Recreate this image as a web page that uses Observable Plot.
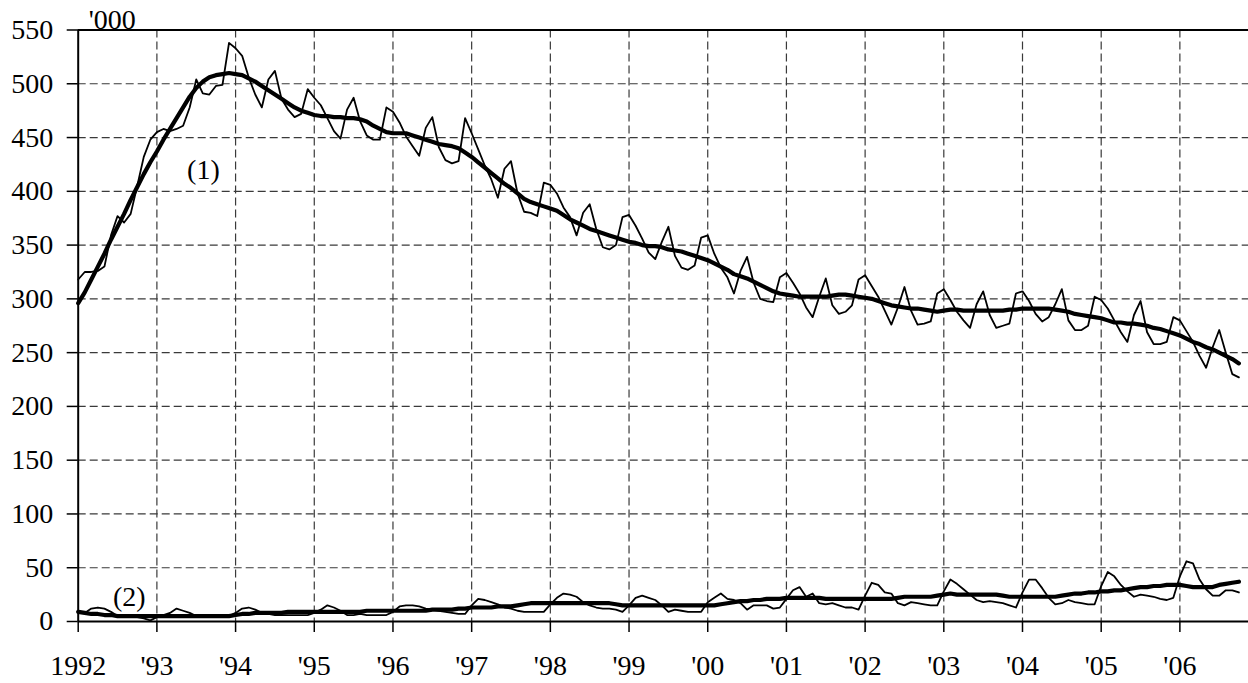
<!DOCTYPE html>
<html>
<head>
<meta charset="utf-8">
<script src="https://cdn.jsdelivr.net/npm/d3@7"></script>
<script src="https://cdn.jsdelivr.net/npm/@observablehq/plot@0.6"></script>
<style>
  html, body { margin: 0; padding: 0; background: #fff; }
  #chart { width: 1248px; height: 683px; }
</style>
</head>
<body>
<div id="chart"></div>
<script>
// Monthly values, Jan 1992 .. Oct 2006 (thousands)
const series1Monthly = [
  318, 325, 325, 326, 330, 359, 377, 371, 379, 405,
  432, 448, 455, 458, 456, 458, 461, 478, 504, 491,
  490, 498, 499, 538, 533, 526, 506, 490, 478, 504,
  512, 486, 476, 469, 472, 495, 487, 480, 468, 456,
  449, 476, 487, 465, 452, 448, 448, 478, 474, 464,
  451, 442, 433, 459, 469, 441, 429, 426, 428, 468,
  454, 439, 424, 411, 394, 421, 428, 398, 381, 380,
  377, 408, 406, 398, 385, 376, 359, 380, 388, 365,
  348, 346, 350, 376, 378, 368, 356, 343, 337, 353,
  367, 340, 329, 327, 331, 357, 359, 342, 329, 320,
  305, 326, 339, 315, 300, 298, 297, 320, 324, 315,
  305, 292, 283, 302, 319, 294, 286, 288, 294, 318,
  322, 312, 302, 289, 276, 292, 311, 289, 276, 277,
  279, 305, 309, 299, 288, 280, 273, 295, 307, 285,
  273, 275, 277, 305, 307, 298, 286, 279, 283, 295,
  309, 280, 271, 271, 275, 302, 299, 291, 280, 269,
  260, 285, 298, 269, 258, 258, 260, 283, 280, 270,
  260, 247, 236, 255, 271, 250, 230, 227
];
const series1Trend = [
  296, 306, 318, 330, 342, 355, 367, 379, 392, 404,
  416, 427, 437, 448, 458, 468, 478, 488, 496, 502,
  506, 508, 509, 510, 509, 508, 505, 502, 498, 494,
  490, 486, 482, 478, 475, 473, 471, 470, 470, 469,
  469, 468, 468, 467, 465, 461, 458, 455, 454, 454,
  454, 452, 450, 448, 446, 444, 443, 442, 440, 436,
  432, 427, 422, 417, 412, 407, 403, 398, 393, 390,
  388, 386, 384, 382, 378, 374, 371, 368, 365, 363,
  361, 359, 357, 355, 353, 352, 350, 349, 349, 348,
  346, 345, 344, 342, 340, 338, 336, 333, 330, 327,
  323, 321, 319, 316, 313, 310, 307, 305, 304, 303,
  302, 302, 302, 302, 302, 303, 304, 304, 303, 302,
  301, 300, 298, 296, 294, 293, 292, 291, 291, 290,
  289, 288, 289, 290, 290, 289, 289, 289, 289, 289,
  289, 289, 290, 290, 291, 291, 291, 291, 291, 290,
  289, 288, 286, 285, 284, 283, 282, 280, 278, 278,
  277, 277, 276, 275, 273, 272, 270, 268, 266, 263,
  260, 258, 255, 253, 250, 247, 244, 240
];
const series2Monthly = [
  10, 8, 12, 13, 12, 9, 5, 4, 4, 4,
  3, 1, 4, 6, 8, 12, 10, 8, 5, 5,
  5, 5, 5, 5, 8, 12, 13, 11, 8, 7,
  6, 6, 6, 6, 6, 6, 8, 11, 15, 13,
  10, 6, 6, 7, 6, 6, 6, 6, 9, 14,
  15, 15, 14, 12, 11, 10, 9, 8, 7, 7,
  15, 21, 20, 18, 16, 13, 12, 10, 9, 9,
  9, 9, 16, 22, 26, 25, 23, 18, 15, 13,
  12, 12, 11, 9, 15, 22, 24, 22, 20, 15,
  9, 11, 10, 9, 9, 9, 18, 22, 26, 21,
  20, 17, 11, 15, 15, 15, 12, 13, 21, 29,
  32, 23, 26, 17, 16, 17, 15, 13, 13, 11,
  24, 36, 34, 27, 26, 17, 15, 18, 17, 16,
  15, 15, 28, 39, 35, 30, 25, 20, 18, 19,
  18, 17, 15, 13, 27, 39, 39, 31, 22, 16,
  17, 20, 18, 17, 16, 16, 33, 46, 42, 34,
  28, 23, 25, 24, 23, 21, 20, 22, 42, 56,
  54, 39, 30, 24, 24, 29, 29, 27
];
const series2Trend = [
  9, 8, 7, 7, 6, 6, 5, 5, 5, 5,
  5, 5, 5, 5, 5, 5, 5, 5, 5, 5,
  5, 5, 5, 5, 6, 7, 7, 8, 8, 8,
  8, 8, 9, 9, 9, 9, 9, 9, 9, 9,
  9, 9, 9, 9, 10, 10, 10, 10, 10, 10,
  10, 10, 10, 10, 11, 11, 11, 11, 12, 12,
  13, 13, 13, 13, 14, 14, 14, 15, 16, 17,
  17, 17, 17, 17, 17, 17, 17, 17, 17, 17,
  17, 17, 16, 15, 15, 15, 15, 15, 15, 15,
  15, 15, 15, 15, 15, 15, 15, 15, 16, 17,
  18, 19, 19, 20, 20, 21, 21, 21, 22, 22,
  22, 22, 22, 22, 21, 21, 21, 21, 21, 21,
  21, 21, 21, 21, 21, 22, 23, 23, 23, 23,
  23, 24, 25, 26, 25, 25, 25, 25, 25, 25,
  25, 24, 23, 23, 23, 23, 23, 23, 23, 23,
  24, 25, 26, 26, 27, 27, 28, 28, 29, 29,
  30, 31, 32, 32, 33, 33, 34, 34, 34, 33,
  32, 32, 32, 32, 34, 35, 36, 37
];
const startYear = 1992;
const yearTicks = [1992, 1993, 1994, 1995, 1996, 1997, 1998, 1999, 2000, 2001, 2002, 2003, 2004, 2005, 2006];
const yearLabels = ["1992", "'93", "'94", "'95", "'96", "'97", "'98", "'99", "'00", "'01", "'02", "'03", "'04", "'05", "'06"];
const yTicks = [0, 50, 100, 150, 200, 250, 300, 350, 400, 450, 500, 550];
const unitLabel = "'000";
const seriesLabels = ["(1)", "(2)"];
const seriesLabelPos = [{month: 19.1, value: 420}, {month: 7.8, value: 23}];

const toRows = arr => arr.map((v, i) => ({x: startYear + i / 12, y: v}));
const labelRows = seriesLabels.map((t, i) => ({x: startYear + seriesLabelPos[i].month / 12, y: seriesLabelPos[i].value, t}));

const gridStyle = {stroke: "#3a3a3a", strokeWidth: 1.2, strokeDasharray: "8,4"};

const chart = Plot.plot({
  width: 1248,
  height: 683,
  marginLeft: 77.7,
  marginRight: 0,
  marginTop: 29.5,
  marginBottom: 62,
  style: {fontFamily: '"Liberation Serif", "Times New Roman", serif', fontSize: "28px", background: "#fff", color: "#000"},
  x: {domain: [1992, 2006.872]},
  y: {domain: [0, 550]},
  marks: [
    Plot.ruleX(yearTicks.slice(1), gridStyle),
    Plot.ruleY(yTicks.slice(1, -1), gridStyle),
    Plot.axisY(yTicks, {tickSize: 11, tickPadding: 14, label: null, strokeWidth: 1.5, fontSize: 28}),
    Plot.axisX(yearTicks, {tickSize: 11, tickPadding: 23, label: null, strokeWidth: 1.5, fontSize: 28,
      tickFormat: d => yearLabels[yearTicks.indexOf(d)]}),
    Plot.ruleY([0, 550], {stroke: "#000", strokeWidth: 2}),
    Plot.ruleX([1992], {stroke: "#000", strokeWidth: 2}),
    Plot.line(toRows(series2Monthly), {x: "x", y: "y", stroke: "#000", strokeWidth: 1.8}),
    Plot.line(toRows(series2Trend), {x: "x", y: "y", stroke: "#000", strokeWidth: 4.2}),
    Plot.line(toRows(series1Monthly), {x: "x", y: "y", stroke: "#000", strokeWidth: 1.8}),
    Plot.line(toRows(series1Trend), {x: "x", y: "y", stroke: "#000", strokeWidth: 4.2}),
    Plot.text(labelRows, {x: "x", y: "y", text: "t", fill: "#000", fontSize: 28, textAnchor: "middle"}),
    Plot.text([unitLabel], {x: () => 1992 + 1.6 / 12, y: () => 550, text: d => d, fill: "#000", fontSize: 28, textAnchor: "start", lineAnchor: "bottom", dy: -1})
  ]
});
document.getElementById("chart").appendChild(chart);
</script>
</body>
</html>
